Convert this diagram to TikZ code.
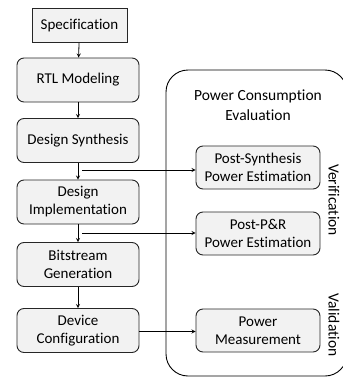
\documentclass[tikz,border=0pt]{standalone}
\usepackage{fontspec}
\setmainfont{Carlito}[Ligatures=NoCommon]
\usetikzlibrary{positioning}
\usetikzlibrary{arrows,shapes}
\usetikzlibrary{calc}
\tikzstyle{stepbox}=[draw=black!85,fill=black!5,line width=0.9pt,rounded corners=7pt,minimum width=122pt,minimum height=44pt,inner sep=1pt,align=center,font=\fontsize{15}{18}\selectfont]
\tikzstyle{specbox}=[stepbox,rounded corners=0pt,minimum width=95pt,minimum height=34pt]
\tikzstyle{evalbox}=[stepbox,minimum width=124pt,minimum height=43pt]
\tikzstyle{edge} = [draw,line width=0.8pt,->,>=stealth]
\tikzstyle{label} = [font=\fontsize{15.5}{20}\selectfont,align=center]

\begin{document}
\begin{tikzpicture}[x=1pt,y=-1pt]

  \useasboundingbox (0,0) rectangle (343,378);
  \clip (0,0) rectangle (343,378);

  % outer evaluation frame
  \draw[line width=0.9pt, rounded corners=22pt] (166,70) rectangle (347,376);
  \node[label] (evaltitle) at (258,105) {Power Consumption\\Evaluation};
  \node[label, rotate=-90] (verif) at (334,200) {Verification};
  \node[label, rotate=-90] (valid) at (334,325) {Validation};

  \node[specbox] (spec) at (79.5,25.5) {Specification};

  \foreach \y/\name/\label in {80/rtl/{RTL Modeling}, 140.5/synth/{Design Synthesis}, 202/impl/{Design\\Implementation}, 264.5/bits/{Bitstream\\Generation}, 330.5/dev/{Device\\Configuration}}
          \node[stepbox] (\name) at (78,\y) {\label};

  \foreach \y/\name/\label in {167.5/psyn/{Post-Synthesis\\Power Estimation}, 233.5/ppr/{Post-P\&R\\Power Estimation}, 330.5/pmeas/{Power\\Measurement}}
          \node[evalbox] (\name) at (258,\y) {\label};

  \foreach \source/ \dest in {spec/rtl, rtl/synth, synth/impl, impl/bits, bits/dev}
         \path[edge] (\source) -- (\dest);

  % branches to the estimation steps
  \coordinate (tap1) at (82,170);
  \coordinate (tap2) at (82,233);
  \path[edge] (tap1) -- (tap1 -| psyn.west);
  \path[edge] (tap2) -- (tap2 -| ppr.west);
  \path[edge] (dev.east |- 0,331.5) -- (pmeas.west |- 0,331.5);

\end{tikzpicture}
\end{document}
